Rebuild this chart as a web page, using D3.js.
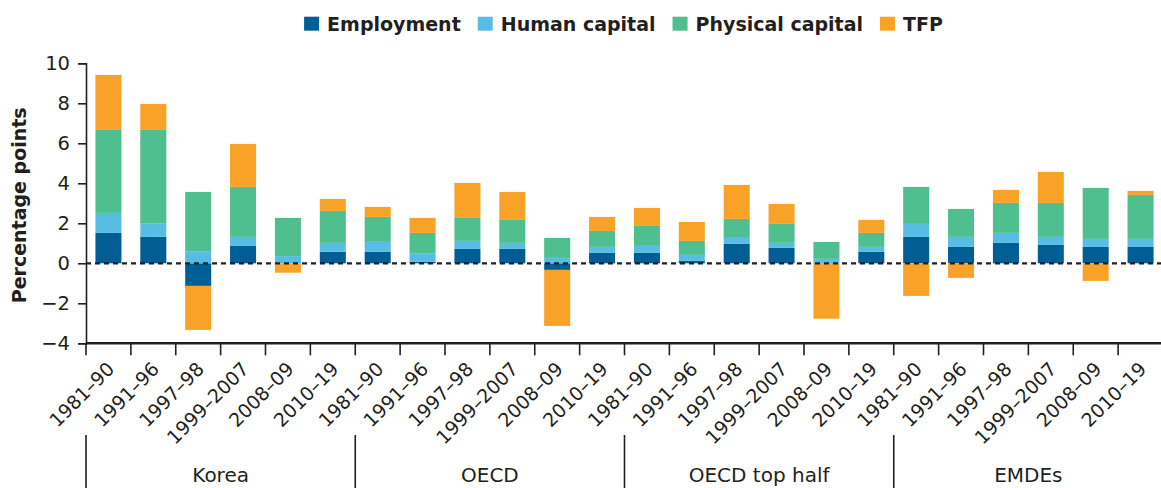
<!DOCTYPE html>
<html>
<head>
<meta charset="utf-8">
<script src="https://cdn.jsdelivr.net/npm/d3@7"></script>
<style>
  html, body { margin: 0; padding: 0; background: #fff; }
  svg { display: block; }
  text { font-family: "DejaVu Sans", sans-serif; fill: #231f20; }
</style>
</head>
<body>
<svg id="chart" width="1161" height="488"></svg>
<script>
// ---- data ----
const groups = ["Korea", "OECD", "OECD top half", "EMDEs"];
const periods = ["1981–90", "1991–96", "1997–98", "1999–2007", "2008–09", "2010–19"];
const seriesNames = ["Employment", "Human capital", "Physical capital", "TFP"];
const employment      = [1.52, 1.32, -1.13, 0.87, 0.00, 0.57,  0.57, 0.07, 0.72, 0.72, -0.33, 0.52,  0.52, 0.12, 0.97, 0.77, 0.02, 0.57,  1.32, 0.82, 1.02, 0.92, 0.82, 0.82];
const humanCapital    = [1.00, 0.66, 0.58, 0.45, 0.36, 0.45,  0.50, 0.41, 0.40, 0.30, 0.27, 0.30,  0.35, 0.30, 0.30, 0.25, 0.20, 0.25,  0.65, 0.50, 0.50, 0.40, 0.40, 0.40];
const physicalCapital = [4.15, 4.69, 2.99, 2.50, 1.91, 1.60,  1.25, 1.04, 1.15, 1.15, 1.00, 0.80,  1.00, 0.70, 0.95, 0.95, 0.85, 0.70,  1.85, 1.40, 1.50, 1.70, 2.55, 2.20];
const tfp             = [2.75, 1.30, -2.20, 2.15, -0.47, 0.60, 0.50, 0.75, 1.75, 1.40, -2.80, 0.70, 0.90, 0.95, 1.70, 1.00, -2.77, 0.65, -1.63, -0.73, 0.65, 1.55, -0.88, 0.20];
const yTicks = [-4, -2, 0, 2, 4, 6, 8, 10];
const colors = ["#005e94", "#58bde4", "#4fbf8f", "#f9a228"];

// ---- table ----
const valueArrays = [employment, humanCapital, physicalCapital, tfp];
const rows = [];
groups.forEach((g, gi) => periods.forEach((p, pi) => {
  const i = gi * periods.length + pi;
  const r = { key: g + "|" + p, group: g, period: p };
  seriesNames.forEach((s, si) => r[s] = valueArrays[si][i]);
  rows.push(r);
}));

const svg = d3.select("#chart");
const W = 1161;
const plotLeft = 86, plotRight = 1163, plotTop = 63.3, plotBottom = 343.3;

const x = d3.scaleBand().domain(rows.map(d => d.key)).range([plotLeft, plotRight])
  .paddingInner(0.42).paddingOuter(0.21);
const y = d3.scaleLinear().domain([-4, 10]).range([plotBottom, plotTop]);
const color = d3.scaleOrdinal().domain(seriesNames).range(colors);
const step = x.step();
const cellLeft = d => x(d) - (step - x.bandwidth()) / 2;

// ---- bars ----
const stacked = d3.stack().keys(seriesNames).offset(d3.stackOffsetDiverging)(rows);
svg.append("g").selectAll("g").data(stacked).join("g")
  .attr("fill", s => color(s.key))
  .selectAll("rect").data(s => s).join("rect")
  .attr("x", d => x(d.data.key))
  .attr("width", x.bandwidth())
  .attr("y", d => y(Math.max(d[0], d[1])))
  .attr("height", d => Math.abs(y(d[0]) - y(d[1])));

// ---- zero line ----
svg.append("line")
  .attr("x1", plotLeft).attr("x2", W)
  .attr("y1", y(0)).attr("y2", y(0))
  .attr("stroke", "#231f20").attr("stroke-width", 2.2)
  .attr("stroke-dasharray", "5,4");

// ---- y axis ----
const yAxis = svg.append("g").attr("transform", `translate(${plotLeft},0)`)
  .call(d3.axisLeft(y).tickValues(yTicks).tickSize(8).tickPadding(8)
    .tickFormat(d => d < 0 ? "−" + Math.abs(d) : d));
yAxis.select(".domain").attr("stroke", "#231f20").attr("stroke-width", 1.6);
yAxis.selectAll(".tick line").attr("stroke", "#231f20").attr("stroke-width", 1.6);
yAxis.selectAll(".tick text").style("font-family", "DejaVu Sans").style("font-size", "19.5px").attr("fill", "#231f20");

svg.append("text")
  .attr("transform", `translate(26,${(plotTop + plotBottom) / 2 + 2}) rotate(-90)`)
  .attr("text-anchor", "middle")
  .style("font-size", "19px").style("font-weight", "bold")
  .text("Percentage points");

// ---- x axis ----
svg.append("line").attr("x1", plotLeft).attr("x2", W).attr("y1", plotBottom).attr("y2", plotBottom)
  .attr("stroke", "#231f20").attr("stroke-width", 2.4);
svg.append("g").selectAll("line").data(rows).join("line")
  .attr("x1", d => cellLeft(d.key)).attr("x2", d => cellLeft(d.key))
  .attr("y1", plotBottom).attr("y2", plotBottom + 12)
  .attr("stroke", "#231f20").attr("stroke-width", 1.6);

svg.append("g").selectAll("text").data(rows).join("text")
  .attr("transform", d => `translate(${x(d.key) + x.bandwidth() / 2 + 7},${plotBottom + 27}) rotate(-45)`)
  .attr("text-anchor", "end")
  .style("font-size", "19px")
  .text(d => d.period);

// group separators and labels
const groupStarts = groups.map(g => cellLeft(rows.find(r => r.group === g).key));
svg.append("g").selectAll("line").data(groupStarts).join("line")
  .attr("x1", d => d).attr("x2", d => d)
  .attr("y1", 435).attr("y2", 488)
  .attr("stroke", "#231f20").attr("stroke-width", 1.6);
svg.append("g").selectAll("text").data(groups).join("text")
  .attr("x", (g, i) => groupStarts[i] + step * periods.length / 2)
  .attr("y", 482)
  .attr("text-anchor", "middle")
  .style("font-size", "20px")
  .text(g => g);

// ---- legend ----
const legend = svg.append("g");
const items = legend.selectAll("g").data(seriesNames).join("g");
items.append("rect").attr("width", 15).attr("height", 14).attr("y", 16.7)
  .attr("fill", d => color(d));
items.append("text").attr("x", 23).attr("y", 30.5)
  .style("font-size", "19px").style("font-weight", "bold")
  .text(d => d);
let cx = 0;
const offs = [];
items.each(function () {
  offs.push(cx);
  const w = d3.select(this).select("text").node().getComputedTextLength();
  cx += 23 + w + 17;
});
const total = cx - 17;
const startX = (plotLeft + W) / 2 - total / 2;
items.attr("transform", (d, i) => `translate(${startX + offs[i]},0)`);
</script>
</body>
</html>
